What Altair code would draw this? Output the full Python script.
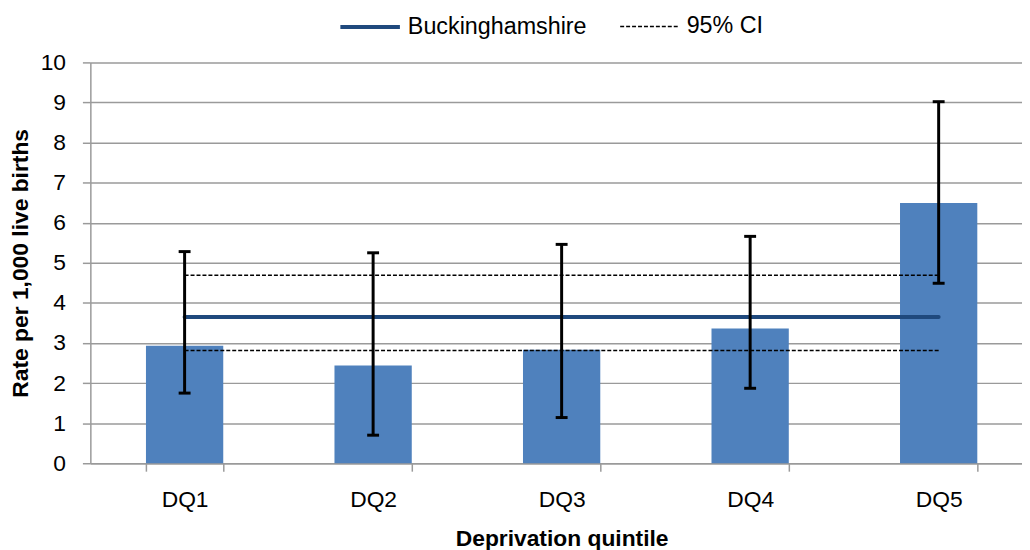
import altair as alt
import pandas as pd

categories = ["DQ1", "DQ2", "DQ3", "DQ4", "DQ5"]
rates = [2.93, 2.44, 2.83, 3.36, 6.49]
ci_lower = [1.75, 0.70, 1.14, 1.87, 4.49]
ci_upper = [5.28, 5.25, 5.46, 5.66, 9.02]
bucks_rate = 3.65
bucks_ci_lower = 2.81
bucks_ci_upper = 4.69
series_names = ["Buckinghamshire", "95% CI"]
y_ticks = list(range(0, 11))

FONT = "Liberation Sans"
GRID = "#9a9a9a"

bars_df = pd.DataFrame({"cat": categories, "rate": rates, "lo": ci_lower, "hi": ci_upper})

ci_rows = []
for c in categories:
    ci_rows.append({"cat": c, "series": series_names[1], "line": "upper", "value": bucks_ci_upper})
    ci_rows.append({"cat": c, "series": series_names[1], "line": "lower", "value": bucks_ci_lower})
ci_df = pd.DataFrame(ci_rows)
bucks_df = pd.DataFrame({"cat": categories, "series": series_names[0], "line": "bucks",
                         "value": [bucks_rate] * len(categories)})

x_enc = alt.X(
    "cat:N",
    scale=alt.Scale(domain=categories, range=[0, 950], paddingInner=0.59, paddingOuter=0.295),
    axis=alt.Axis(
        title="Deprivation quintile", labelAngle=0, tickBand="extent",
        labelFontSize=23, titleFontSize=23, labelPadding=18, titlePadding=16,
        domainColor=GRID, tickColor=GRID, tickSize=8, domainWidth=1.5, tickWidth=1.5,
    ),
)
y_scale = alt.Scale(domain=[0, 10], nice=False)
y_axis = alt.Axis(
    title="Rate per 1,000 live births", values=y_ticks, grid=True, gridColor=GRID, gridWidth=1.5,
    domainColor=GRID, tickColor=GRID, tickSize=8, domainWidth=1.5, tickWidth=1.5,
    labelFontSize=23, titleFontSize=23, labelPadding=17, titlePadding=8,
)

legend = alt.Legend(
    orient="none", legendX=250, legendY=-68, direction="horizontal", symbolType="stroke",
    symbolSize=3600, labelFontSize=23.5, labelFont=FONT, title=None, columnPadding=30,
    labelOffset=6, padding=0, labelColor="black", labelLimit=400,
)
color_enc = alt.Color("series:N", scale=alt.Scale(domain=series_names, range=["#1F497D", "black"]), legend=legend)
dash_enc = alt.StrokeDash("series:N", scale=alt.Scale(domain=series_names, range=[[1, 0], [4, 2]]), legend=legend)
width_enc = alt.StrokeWidth("series:N", scale=alt.Scale(domain=series_names, range=[4, 1.5]), legend=legend)

bars = alt.Chart(bars_df).mark_bar(color="#4F81BD").encode(
    x=x_enc, y=alt.Y("rate:Q", scale=y_scale, axis=y_axis)
)
ci_lines = alt.Chart(ci_df).mark_line().encode(
    x=x_enc, y=alt.Y("value:Q", scale=y_scale), color=color_enc, strokeDash=dash_enc,
    strokeWidth=width_enc, detail="line:N",
)
bucks_line = alt.Chart(bucks_df).mark_line(strokeCap="round").encode(
    x=x_enc, y=alt.Y("value:Q", scale=y_scale), color=color_enc, strokeDash=dash_enc,
    strokeWidth=width_enc, detail="line:N",
)
err = alt.Chart(bars_df).mark_rule(color="black", strokeWidth=3).encode(
    x=x_enc, y=alt.Y("lo:Q", scale=y_scale), y2="hi:Q"
)
cap_lo = alt.Chart(bars_df).mark_tick(color="black", thickness=3, size=12, opacity=1).encode(
    x=x_enc, y=alt.Y("lo:Q", scale=y_scale)
)
cap_hi = alt.Chart(bars_df).mark_tick(color="black", thickness=3, size=12, opacity=1).encode(
    x=x_enc, y=alt.Y("hi:Q", scale=y_scale)
)

chart = alt.layer(bars, ci_lines, bucks_line, err, cap_lo, cap_hi).properties(
    width=939, height=404,
    autosize=alt.AutoSizeParams(type="none"),
    padding={"left": 83, "top": 52.7, "right": 0, "bottom": 86},
    background="white",
).configure_view(stroke=None).configure_axis(
    labelFont=FONT, titleFont=FONT, labelColor="black", titleColor="black", titleFontWeight="bold"
)

chart.save("out.html", embed_options={"renderer": "svg", "actions": False})
